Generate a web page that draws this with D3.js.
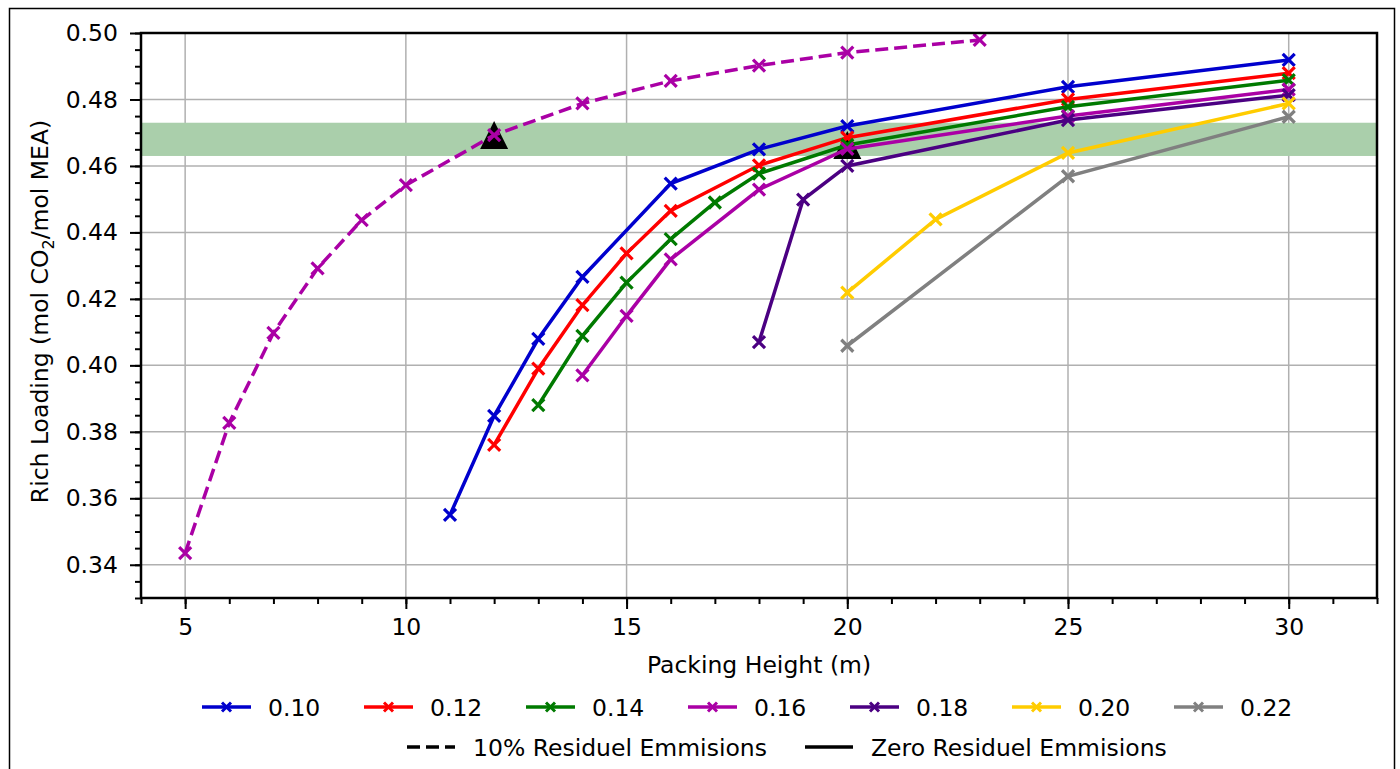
<!DOCTYPE html>
<html>
<head>
<meta charset="utf-8">
<script src="https://cdn.jsdelivr.net/npm/d3@7"></script>
<style>
  body { margin: 0; background: #fff; }
  svg { font-family: "DejaVu Sans", sans-serif; }
</style>
</head>
<body>
<script>
// Packing heights (m) and rich loadings, one pair of arrays per lean loading
const seriesNames = ["0.10", "0.12", "0.14", "0.16", "0.18", "0.20", "0.22"];
const seriesColors = ["#0000cd", "#ff0000", "#007a00", "#aa00a5", "#4b0082", "#ffcc00", "#808080"];

const h010 = [11, 12, 13, 14, 16, 18, 20, 25, 30];
const v010 = [0.355, 0.3848, 0.408, 0.4266, 0.4547, 0.465, 0.472, 0.4838, 0.4919];
const h012 = [12, 13, 14, 15, 16, 18, 20, 25, 30];
const v012 = [0.3761, 0.399, 0.4181, 0.4337, 0.4465, 0.4602, 0.4685, 0.480, 0.4879];
const h014 = [13, 14, 15, 16, 17, 18, 20, 25, 30];
const v014 = [0.388, 0.4089, 0.4249, 0.438, 0.449, 0.4577, 0.4663, 0.4778, 0.4858];
const h016 = [14, 15, 16, 18, 20, 25, 30];
const v016 = [0.397, 0.4149, 0.4319, 0.4529, 0.4651, 0.475, 0.483];
const h018 = [18, 19, 20, 25, 30];
const v018 = [0.407, 0.4499, 0.460, 0.4738, 0.4813];
const h020 = [20, 22, 25, 30];
const v020 = [0.4219, 0.4439, 0.4639, 0.4788];
const h022 = [20, 25, 30];
const v022 = [0.4059, 0.4569, 0.4748];

// 10% residual emissions case (lean loading 0.16)
const hDash = [5, 6, 7, 8, 9, 10, 12, 14, 16, 18, 20, 23];
const vDash = [0.3435, 0.3827, 0.4098, 0.4292, 0.4437, 0.4542, 0.4693, 0.4788, 0.4856, 0.4902, 0.4941, 0.4979];

// selected design points
const triX = [12, 20];
const triY = [0.4693, 0.4663];

// target loading band
const bandLow = 0.463, bandHigh = 0.473;

const xTicks = [5, 10, 15, 20, 25, 30];
const yTicks = [0.34, 0.36, 0.38, 0.40, 0.42, 0.44, 0.46, 0.48, 0.50];

const heights = [h010, h012, h014, h016, h018, h020, h022];
const values = [v010, v012, v014, v016, v018, v020, v022];

const W = 1400, H = 769;
const margin = { left: 141, top: 33, right: 23, bottom: 171 };
const iw = W - margin.left - margin.right;
const ih = H - margin.top - margin.bottom;
const FS = 23.5;

const svg = d3.select("body").append("svg")
    .attr("width", W)
    .attr("height", H);

// figure frame
svg.append("rect")
    .attr("x", 9.5).attr("y", 8.5)
    .attr("width", 1385).attr("height", 770)
    .attr("fill", "none").attr("stroke", "#000").attr("stroke-width", 1.5);

const g = svg.append("g").attr("transform", `translate(${margin.left},${margin.top})`);

const x = d3.scaleLinear().domain([4, 32]).range([0, iw]);
const y = d3.scaleLinear().domain([0.33, 0.50]).range([ih, 0]);

// grid
g.selectAll(".gx").data(xTicks).enter().append("line")
    .attr("x1", d => x(d)).attr("x2", d => x(d))
    .attr("y1", 0).attr("y2", ih)
    .attr("stroke", "#b0b0b0").attr("stroke-width", 1.5);
g.selectAll(".gy").data(yTicks).enter().append("line")
    .attr("x1", 0).attr("x2", iw)
    .attr("y1", d => y(d)).attr("y2", d => y(d))
    .attr("stroke", "#b0b0b0").attr("stroke-width", 1.5);

// band
g.append("rect")
    .attr("x", 0).attr("width", iw)
    .attr("y", y(bandHigh)).attr("height", y(bandLow) - y(bandHigh))
    .attr("fill", "#aacfab");

// triangles
g.selectAll(".tri").data(triX).enter().append("path")
    .attr("d", "M0,-14L14,14L-14,14Z")
    .attr("transform", (d, i) => `translate(${x(d)},${y(triY[i])})`)
    .attr("fill", "#000");

const line = d3.line().x(d => x(d[0])).y(d => y(d[1]));

function drawSeries(hs, vs, color, dashed) {
    const pts = hs.map((h, i) => [h, vs[i]]);
    g.append("path")
        .datum(pts)
        .attr("d", line)
        .attr("fill", "none")
        .attr("stroke", color)
        .attr("stroke-width", 3.5)
        .attr("stroke-dasharray", dashed ? "13,6" : null);
    g.selectAll(null).data(pts).enter().append("path")
        .attr("d", "M-6,-6L6,6M-6,6L6,-6")
        .attr("transform", d => `translate(${x(d[0])},${y(d[1])})`)
        .attr("stroke", color)
        .attr("stroke-width", 3.2);
}

drawSeries(hDash, vDash, seriesColors[3], true);
heights.forEach((hs, i) => drawSeries(hs, values[i], seriesColors[i], false));

// axes
const xAxis = d3.axisBottom(x).tickValues(xTicks).tickSize(11).tickPadding(9).tickFormat(d3.format("d"));
const yAxis = d3.axisLeft(y).tickValues(yTicks).tickSize(11).tickPadding(12).tickFormat(d3.format(".2f"));

g.append("g").attr("transform", `translate(0,${ih})`).call(xAxis);
g.append("g").call(yAxis);

// minor ticks
g.append("g").attr("transform", `translate(0,${ih})`)
    .call(d3.axisBottom(x).tickValues(d3.range(4, 33, 1)).tickSize(6).tickFormat(""));
g.append("g")
    .call(d3.axisLeft(y).tickValues(d3.range(0.33, 0.5001, 0.005)).tickSize(6).tickFormat(""));

g.selectAll(".domain").remove();
g.selectAll(".tick line").attr("stroke", "#000").attr("stroke-width", 2);
g.selectAll(".tick text").attr("font-size", FS).attr("fill", "#000").attr("font-family", "DejaVu Sans");

// frame of the axes
g.append("rect")
    .attr("width", iw).attr("height", ih)
    .attr("fill", "none").attr("stroke", "#000").attr("stroke-width", 2.5);

// axis titles
svg.append("text")
    .attr("x", 759).attr("y", 673)
    .attr("text-anchor", "middle").attr("font-size", FS)
    .text("Packing Height (m)");

const yl = svg.append("text")
    .attr("transform", `translate(48,${margin.top + ih / 2 - 4}) rotate(-90)`)
    .attr("text-anchor", "middle").attr("font-size", FS);
yl.append("tspan").text("Rich Loading (mol CO");
yl.append("tspan").attr("font-size", 16).attr("dy", 6).text("2");
yl.append("tspan").attr("dy", -6).text("/mol MEA)");

// legend row 1
const leg = svg.append("g");
seriesNames.forEach((name, i) => {
    const lx = 202 + i * 162, ly = 707;
    leg.append("line")
        .attr("x1", lx).attr("x2", lx + 49).attr("y1", ly).attr("y2", ly)
        .attr("stroke", seriesColors[i]).attr("stroke-width", 3.5);
    leg.append("path")
        .attr("d", "M-4.5,-4.5L4.5,4.5M-4.5,4.5L4.5,-4.5")
        .attr("transform", `translate(${lx + 24.5},${ly})`)
        .attr("stroke", seriesColors[i]).attr("stroke-width", 3);
    leg.append("text")
        .attr("x", lx + 66).attr("y", ly + 8.5)
        .attr("font-size", FS)
        .text(name);
});

// legend row 2
const styleNames = ["10% Residuel Emmisions", "Zero Residuel Emmisions"];
const styleX = [407, 805];
styleNames.forEach((name, i) => {
    const lx = styleX[i], ly = 747;
    leg.append("line")
        .attr("x1", lx).attr("x2", lx + 48).attr("y1", ly).attr("y2", ly)
        .attr("stroke", "#000").attr("stroke-width", 3.5)
        .attr("stroke-dasharray", i === 0 ? "13,6" : null);
    leg.append("text")
        .attr("x", lx + 66).attr("y", ly + 8.5)
        .attr("font-size", FS)
        .text(name);
});
</script>
</body>
</html>
